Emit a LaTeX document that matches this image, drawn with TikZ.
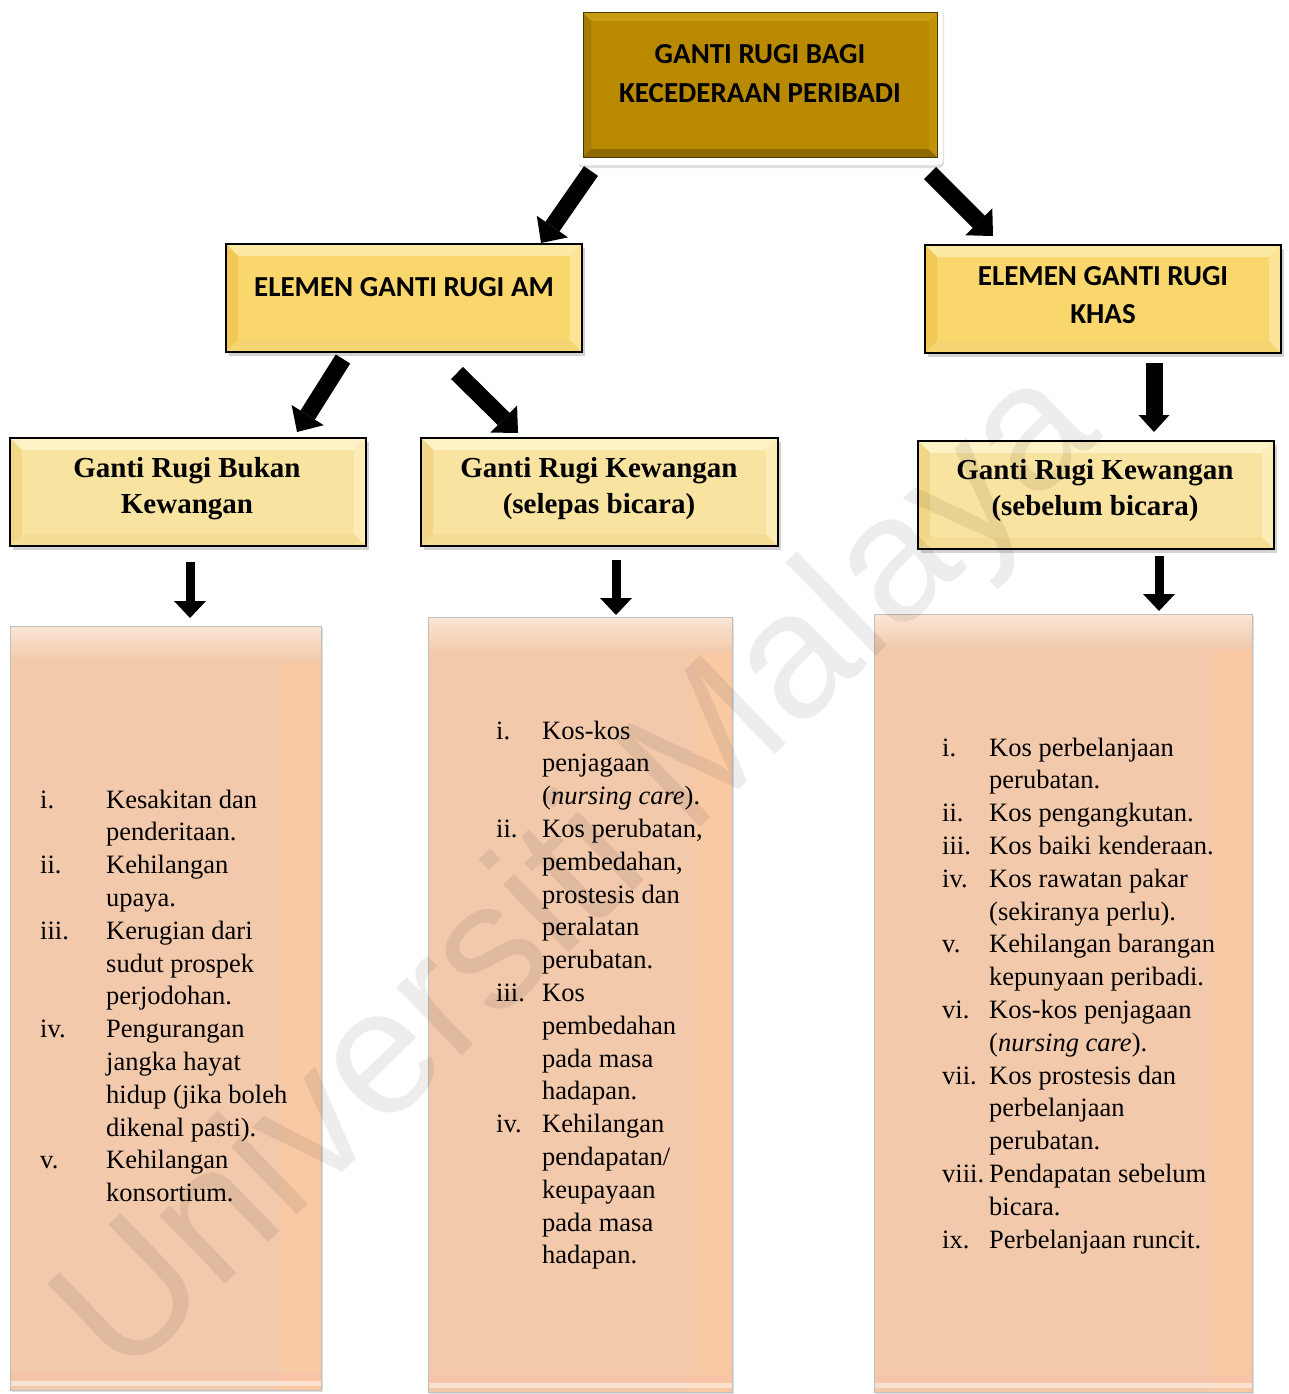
\documentclass[tikz,border=0pt]{standalone}
\usepackage{fontspec}
\setmainfont{Liberation Serif}
\newfontfamily\calibrifont{Carlito}
\newfontfamily\wmfont{Liberation Sans}
\usetikzlibrary{arrows.meta,calc,shadows}

\definecolor{goldC}{HTML}{B98A00}
\definecolor{goldT}{HTML}{C89C12}
\definecolor{goldL}{HTML}{A57B00}
\definecolor{goldB}{HTML}{8E6900}
\definecolor{goldR}{HTML}{C29405}
\definecolor{goldE}{HTML}{4A3800}
\definecolor{elC}{HTML}{F9D76C}
\definecolor{elT}{HTML}{FCE9A4}
\definecolor{elL}{HTML}{F2C957}
\definecolor{elB}{HTML}{F5D472}
\definecolor{elR}{HTML}{FBE496}
\definecolor{hdC}{HTML}{F9E3A0}
\definecolor{hdT}{HTML}{FDF1C6}
\definecolor{hdL}{HTML}{F3D788}
\definecolor{hdB}{HTML}{F6DC94}
\definecolor{hdR}{HTML}{FCECB6}
\definecolor{peach}{HTML}{F2C9AA}
\definecolor{peachR}{HTML}{F9C9A4}
\definecolor{peachTop}{HTML}{FBE6D6}
\definecolor{peachPink}{HTML}{F8BFA8}

\tikzset{
  bevel/.style n args={6}{fill=#1, path picture={
    \fill[#2] (path picture bounding box.north west) -- (path picture bounding box.north east)
      -- ([xshift=-#6,yshift=-#6]path picture bounding box.north east)
      -- ([xshift=#6,yshift=-#6]path picture bounding box.north west) -- cycle;
    \fill[#3] (path picture bounding box.north west) -- ([xshift=#6,yshift=-#6]path picture bounding box.north west)
      -- ([xshift=#6,yshift=#6]path picture bounding box.south west) -- (path picture bounding box.south west) -- cycle;
    \fill[#4] (path picture bounding box.south west) -- ([xshift=#6,yshift=#6]path picture bounding box.south west)
      -- ([xshift=-#6,yshift=#6]path picture bounding box.south east) -- (path picture bounding box.south east) -- cycle;
    \fill[#5] (path picture bounding box.north east) -- (path picture bounding box.south east)
      -- ([xshift=-#6,yshift=#6]path picture bounding box.south east)
      -- ([xshift=-#6,yshift=-#6]path picture bounding box.north east) -- cycle;
  }},
  elbox/.style={draw=black, line width=1.8pt, inner sep=0, outer sep=0,
    bevel={elC}{elT}{elL}{elB}{elR}{12pt}, minimum width=356pt, minimum height=108pt,
    drop shadow={opacity=0.35, shadow xshift=3pt, shadow yshift=-4pt}},
  hdbox/.style={draw=black, line width=1.8pt, inner sep=0, outer sep=0,
    bevel={hdC}{hdT}{hdL}{hdB}{hdR}{12pt}, minimum width=356pt, minimum height=108pt,
    drop shadow={opacity=0.35, shadow xshift=3pt, shadow yshift=-4pt}},
  listbox/.style={draw=black!25, line width=0.8pt, fill=peach, inner sep=0, outer sep=0,
    drop shadow={opacity=0.25, shadow xshift=2pt, shadow yshift=-2pt},
    path picture={
      \shade[left color=peach, right color=peachR] ([xshift=-40pt]path picture bounding box.north east) rectangle (path picture bounding box.south east);
      \shade[top color=peachTop, bottom color=peach] (path picture bounding box.north west) rectangle ([yshift=-35pt]path picture bounding box.north east);
      \fill[peachPink, opacity=0.5] ([yshift=17pt]path picture bounding box.south west) rectangle ([yshift=10pt]path picture bounding box.south east);
      \fill[white, opacity=0.45] ([yshift=9pt]path picture bounding box.south west) rectangle ([yshift=4pt]path picture bounding box.south east);
    }},
  calt/.style={font=\calibrifont\bfseries\fontsize{29}{39}\selectfont, align=center, inner sep=0},
  timeshd/.style={font=\bfseries\fontsize{29}{36}\selectfont, align=center, inner sep=0},
  listtext/.style={font=\fontsize{26.5}{32.8}\selectfont, inner sep=0, anchor=base west},
  diagarrow/.style={line width=17pt, -{Triangle[width=38pt,length=20pt,line width=0pt]}},
  thickdown/.style={line width=17pt, -{Triangle[width=31pt,length=17pt,line width=0pt]}},
  thindown/.style={line width=9pt, -{Triangle[width=32pt,length=17pt,line width=0pt]}},
}

\begin{document}
\begin{tikzpicture}[x=1pt,y=-1pt]
\useasboundingbox (0,0) rectangle (1289,1394);
\fill[white] (0,0) rectangle (1289,1394);

% top box
\node[fill=white, rounded corners=5pt, minimum width=366pt, minimum height=160pt, inner sep=0, outer sep=0,
  drop shadow={opacity=0.25, shadow xshift=1pt, shadow yshift=-3pt}] (topframe) at (760,85) {};
\node[draw=goldE, line width=1pt, inner sep=0, outer sep=0, minimum width=354pt, minimum height=144pt,
  bevel={goldC}{goldT}{goldL}{goldB}{goldR}{8pt}] (top) at (760,85) {};

% second level
\node[elbox] (am) at (404,298) {};
\node[elbox] (khas) at (1103,299) {};

% third level
\node[hdbox] (bukan) at (188,492) {};
\node[hdbox, minimum width=357pt] (selepas) at (599.5,492) {};
\node[hdbox] (sebelum) at (1096,495) {};

% list boxes
\node[listbox, minimum width=311pt, minimum height=764pt] (listA) at (165.5,1008) {};
\node[listbox, minimum width=304pt, minimum height=775pt] (listB) at (580,1004.5) {};
\node[listbox, minimum width=378pt, minimum height=778pt] (listC) at (1063,1003) {};

% watermark
\node[rotate=44, text=black, text opacity=0.07, font=\wmfont\fontsize{179}{179}\selectfont, inner sep=0] (wm) at (582,876) {Universiti Malaya};

% texts
\node[calt] (toptext) at (760,73.5) {GANTI RUGI BAGI\\KECEDERAAN PERIBADI};
\node[calt] (amtext) at (404,287) {ELEMEN GANTI RUGI AM};
\node[calt, font=\calibrifont\bfseries\fontsize{29}{38}\selectfont] (khastext) at (1103,295) {ELEMEN GANTI RUGI\\KHAS};
\node[timeshd] (bukantext) at (187,489) {Ganti Rugi Bukan\\Kewangan};
\node[timeshd] (selepastext) at (599,489) {Ganti Rugi Kewangan\\(selepas bicara)};
\node[timeshd] (sebelumtext) at (1095,491) {Ganti Rugi Kewangan\\(sebelum bicara)};

\node[listtext] (listAtext) at (40,808) {\parbox[t]{280pt}{\raggedright
\makebox[66pt][l]{i.}Kesakitan dan\\
\hspace*{66pt}penderitaan.\\
\makebox[66pt][l]{ii.}Kehilangan\\
\hspace*{66pt}upaya.\\
\makebox[66pt][l]{iii.}Kerugian dari\\
\hspace*{66pt}sudut prospek\\
\hspace*{66pt}perjodohan.\\
\makebox[66pt][l]{iv.}Pengurangan\\
\hspace*{66pt}jangka hayat\\
\hspace*{66pt}hidup (jika boleh\\
\hspace*{66pt}dikenal pasti).\\
\makebox[66pt][l]{v.}Kehilangan\\
\hspace*{66pt}konsortium.}};

\node[listtext] (listBtext) at (496,739) {\parbox[t]{280pt}{\raggedright
\makebox[46pt][l]{i.}Kos-kos\\
\hspace*{46pt}penjagaan\\
\hspace*{46pt}(\textit{nursing care}).\\
\makebox[46pt][l]{ii.}Kos perubatan,\\
\hspace*{46pt}pembedahan,\\
\hspace*{46pt}prostesis dan\\
\hspace*{46pt}peralatan\\
\hspace*{46pt}perubatan.\\
\makebox[46pt][l]{iii.}Kos\\
\hspace*{46pt}pembedahan\\
\hspace*{46pt}pada masa\\
\hspace*{46pt}hadapan.\\
\makebox[46pt][l]{iv.}Kehilangan\\
\hspace*{46pt}pendapatan/\\
\hspace*{46pt}keupayaan\\
\hspace*{46pt}pada masa\\
\hspace*{46pt}hadapan.}};

\node[listtext] (listCtext) at (942,756) {\parbox[t]{320pt}{\raggedright
\makebox[47pt][l]{i.}Kos perbelanjaan\\
\hspace*{47pt}perubatan.\\
\makebox[47pt][l]{ii.}Kos pengangkutan.\\
\makebox[47pt][l]{iii.}Kos baiki kenderaan.\\
\makebox[47pt][l]{iv.}Kos rawatan pakar\\
\hspace*{47pt}(sekiranya perlu).\\
\makebox[47pt][l]{v.}Kehilangan barangan\\
\hspace*{47pt}kepunyaan peribadi.\\
\makebox[47pt][l]{vi.}Kos-kos penjagaan\\
\hspace*{47pt}(\textit{nursing care}).\\
\makebox[47pt][l]{vii.}Kos prostesis dan\\
\hspace*{47pt}perbelanjaan\\
\hspace*{47pt}perubatan.\\
\makebox[47pt][l]{viii.}Pendapatan sebelum\\
\hspace*{47pt}bicara.\\
\makebox[47pt][l]{ix.}Perbelanjaan runcit.}};

% arrows
\draw[diagarrow] ($(topframe.south west)+(14,6)$) -- ($(am.north east)+(-41,-1)$);
\draw[diagarrow] ($(topframe.south east)+(-13,8)$) -- ($(khas.north west)+(68,-9)$);
\draw[diagarrow] ($(am.south)+(-61,7)$) -- ($(bukan.north east)+(-69,-6)$);
\draw[diagarrow] ($(am.south)+(53,21)$) -- ($(selepas.north)+(-81.5,-5)$);
\draw[thickdown] ($(khas.south)+(51,10)$) -- ($(sebelum.north)+(58,-9)$);
\draw[thindown] ($(bukan.south)+(2,16)$) -- ($(listA.north)+(24.5,-8)$);
\draw[thindown] ($(selepas.south)+(16.5,14)$) -- ($(listB.north)+(36,-2)$);
\draw[thindown] ($(sebelum.south)+(63,7)$) -- ($(listC.north)+(96,-3)$);
\end{tikzpicture}
\end{document}
